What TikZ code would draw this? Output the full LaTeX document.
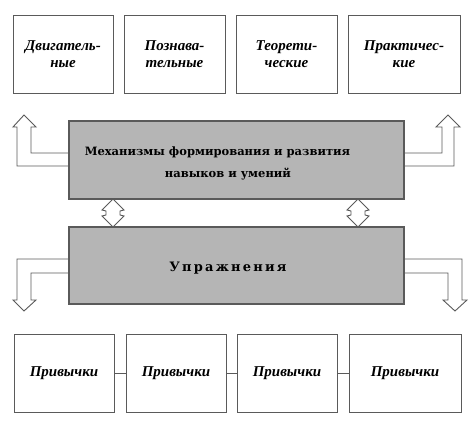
\documentclass[tikz,border=0pt]{standalone}
\usepackage{fontspec}
\setmainfont{DejaVu Serif}
\newfontfamily\labelfont{Liberation Serif}
\definecolor{edge}{HTML}{5A5A5A}
\definecolor{boxfill}{HTML}{B5B5B5}
\tikzset{
  box/.style={draw=edge, line width=1pt, fill=white, minimum width=#1, minimum height=78pt, inner sep=0pt, align=center, font=\labelfont\bfseries\itshape\fontsize{15}{17}\selectfont},
  graybox/.style={draw=edge, line width=1.2pt, fill=boxfill, minimum width=335pt, minimum height=78pt, inner sep=0pt},
  blockarrow/.style={draw=edge, line width=0.9pt, fill=white, line join=miter},
  link/.style={draw=edge, line width=0.9pt},
  mechtext/.style={anchor=base, inner sep=0pt, font=\bfseries\fontsize{11.5}{14}\selectfont}
}
\begin{document}
\begin{tikzpicture}[x=1pt, y=-1pt]
\useasboundingbox (0,0) rectangle (474,426);
% bent block arrows
\draw[blockarrow] (69,153) -- (31,153) -- (31,127) -- (36,127) -- (24,115) -- (13,127) -- (17,127) -- (17,166) -- (69,166);
\draw[blockarrow] (404,153) -- (442,153) -- (442,127) -- (436,127) -- (448,115) -- (460,127) -- (454,127) -- (454,166) -- (404,166);
\draw[blockarrow] (69,259) -- (17,259) -- (17,300) -- (13,300) -- (24,311) -- (36,300) -- (31,300) -- (31,273) -- (69,273);
\draw[blockarrow] (404,259) -- (462,259) -- (462,300) -- (467,300) -- (455,311) -- (443,300) -- (448,300) -- (448,273) -- (404,273);
% double arrows
\foreach \xx in {113,358}{
  \draw[blockarrow] (\xx,199) -- (\xx+11,210) -- (\xx+7,211) -- (\xx+7,215) -- (\xx+11,216) -- (\xx,227) -- (\xx-11,216) -- (\xx-7,215) -- (\xx-7,211) -- (\xx-11,210) -- cycle;
}
% top boxes
\node[box=100pt] (t1) at (63,54) {Двигатель-\\ные};
\node[box=101pt] (t2) at (174.5,54) {Познава-\\тельные};
\node[box=101pt] (t3) at (286.5,54) {Теорети-\\ческие};
\node[box=112pt] (t4) at (404,54) {Практичес-\\кие};
% gray boxes
\node[graybox] (mech) at (236.5,160) {};
\node[mechtext] (mech1) at (217.5,155) {Механизмы формирования и развития};
\node[mechtext] (mech2) at (228,177) {навыков и умений};
\node[graybox, minimum height=77pt] (ups) at (236.5,265.5) {};
\node[mechtext, font=\bfseries\fontsize{13}{15}\selectfont] (upstext) at (228,271.7) {\addfontfeatures{LetterSpace=17}Упражнения};
% bottom boxes
\node[box=100pt] (b1) at (64,373) {Привычки};
\node[box=100pt] (b2) at (176,373) {Привычки};
\node[box=100pt] (b3) at (287,373) {Привычки};
\node[box=112pt] (b4) at (405,373) {Привычки};
\draw[link] (b1) -- (b2);
\draw[link] (b2) -- (b3);
\draw[link] (b3) -- (b4);
\end{tikzpicture}
\end{document}
